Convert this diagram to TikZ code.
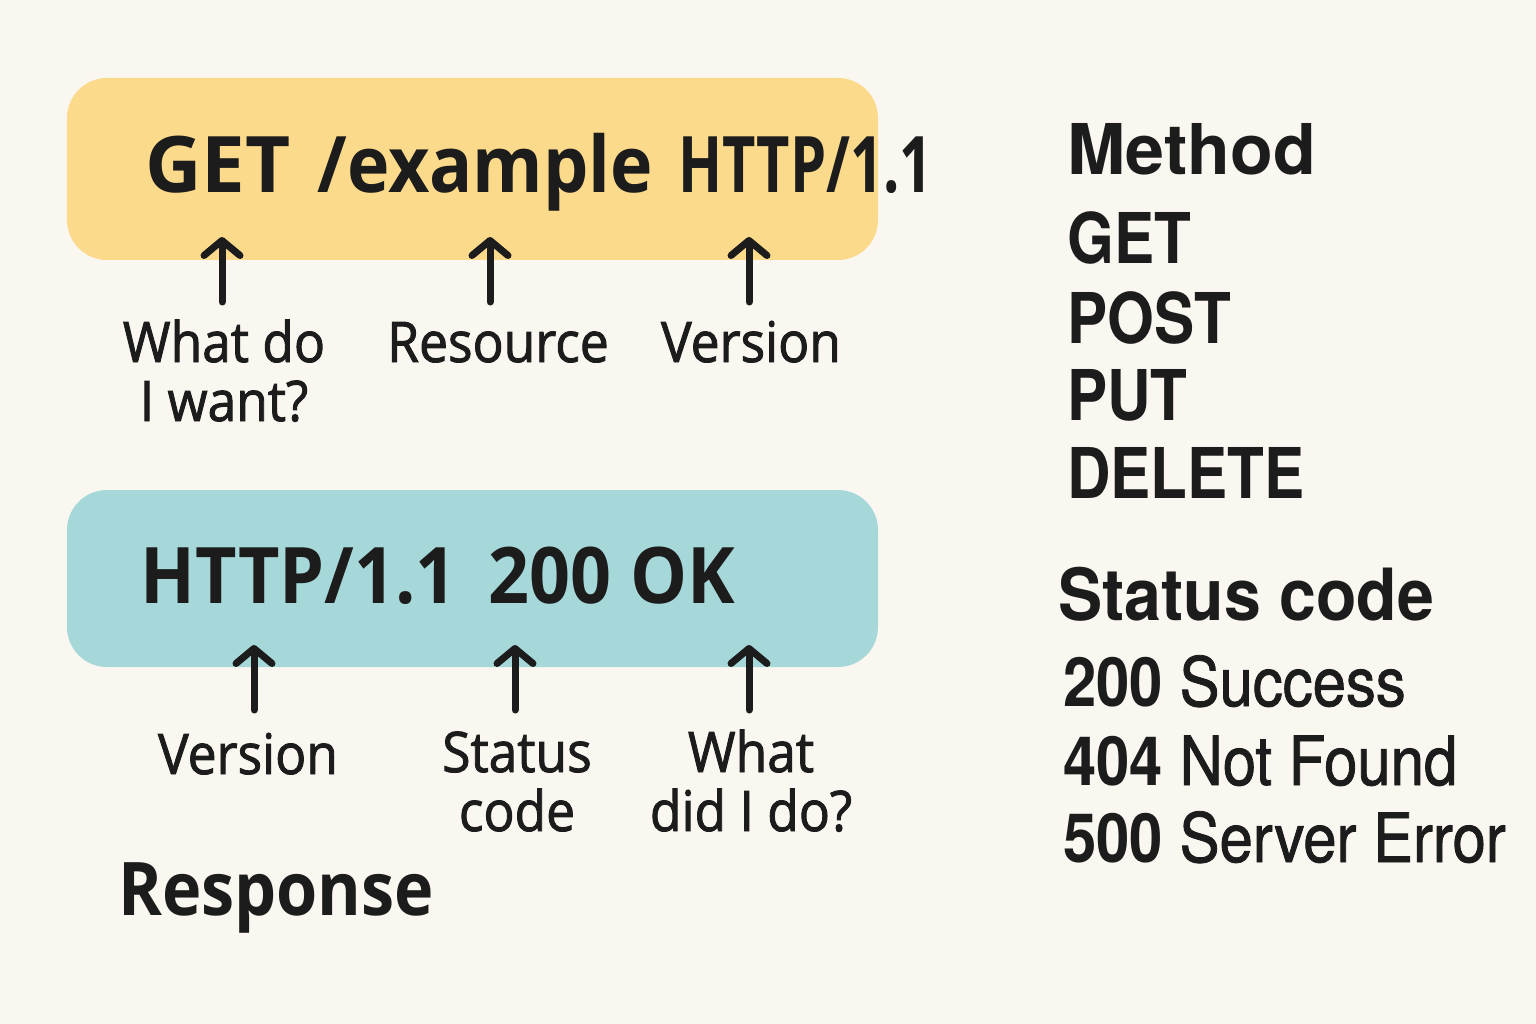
\documentclass[tikz,border=0pt]{standalone}
\usepackage{fontspec}
\usetikzlibrary{arrows.meta}
\setmainfont{Open Sans}
\newfontfamily\osN{Open Sans}
\newfontfamily\osA[FakeStretch=0.92]{Open Sans}
\newfontfamily\osR[FakeStretch=0.9]{Open Sans}
\newfontfamily\osB[FakeStretch=0.74]{Open Sans}
\newfontfamily\osL[FakeStretch=0.92,FakeBold=1.6]{Open Sans}
\newfontfamily\hvN{TeX Gyre Heros}
\newfontfamily\hvS[FakeStretch=0.86]{TeX Gyre Heros}
\newfontfamily\hvT[FakeStretch=0.92]{TeX Gyre Heros}
\newfontfamily\hvC[FakeStretch=0.88]{TeX Gyre Heros}
\newfontfamily\hvCm[FakeStretch=0.88,FakeBold=1.2]{TeX Gyre Heros}
\definecolor{bgc}{HTML}{FAF7F1}
\definecolor{yel}{HTML}{FCDA8B}
\definecolor{tea}{HTML}{A6D8DA}
\definecolor{ink}{HTML}{1C1C1C}
\tikzset{
  box/.style={rounded corners=40pt},
  big/.style={anchor=base west,inner sep=0pt,text=ink,font=\osA\bfseries\fontsize{78}{80}\selectfont},
  lbl/.style={anchor=base,inner sep=0pt,text=ink,align=center,font=\osL\fontsize{56}{59}\selectfont},
  head/.style={anchor=base west,inner sep=0pt,text=ink,font=\hvN\bfseries\fontsize{70}{72}\selectfont},
  item/.style={anchor=base west,inner sep=0pt,text=ink,font=\hvS\bfseries\fontsize{70}{72}\selectfont},
  code/.style={anchor=base west,inner sep=0pt,text=ink,font=\hvC\bfseries\fontsize{68}{70}\selectfont},
  arr/.style={draw=ink,line width=7pt,line cap=round,-{Straight Barb[length=15pt,width=36pt,line cap=round,line join=round]}},
}
\begin{document}
\begin{tikzpicture}[x=1pt,y=-1pt]
\fill[bgc] (0,0) rectangle (1536,1024);
\useasboundingbox (0,0) rectangle (1536,1024);
% boxes
\fill[yel,box] (67,78) rectangle (878,260);
\fill[tea,box] (67,490) rectangle (878,667);
% request line
\node[big] (req) at (145,193) {{\osN GET}\hspace{27pt}/example\hspace{25pt}{\osB HTTP/1.1}};
% request arrows
\coordinate (rs1) at (222,302); \coordinate (rt1) at (222,237);
\coordinate (rs2) at (490,302); \coordinate (rt2) at (490,237);
\coordinate (rs3) at (749,302); \coordinate (rt3) at (749,237);
\draw[arr] (rs1) -- (rt1);
\draw[arr] (rs2) -- (rt2);
\draw[arr] (rs3) -- (rt3);
\node[lbl] (l1) at (224,421) {What do\\I want?};
\node[lbl] (l2) at (498,362) {Resource};
\node[lbl] (l3) at (751,362) {Version};
% response line
\node[big] (resp) at (140,603) {HTTP/1.1\hspace{32pt}200 OK};
\coordinate (ss1) at (254,710); \coordinate (st1) at (254,645);
\coordinate (ss2) at (515,710); \coordinate (st2) at (515,645);
\coordinate (ss3) at (749,710); \coordinate (st3) at (749,645);
\draw[arr] (ss1) -- (st1);
\draw[arr] (ss2) -- (st2);
\draw[arr] (ss3) -- (st3);
\node[lbl] (m1) at (248,774) {Version};
\node[lbl] (m2) at (517,831) {Status\\code};
\node[lbl] (m3) at (751,831) {What\\did I do?};
\node[big,font=\osR\bfseries\fontsize{74}{76}\selectfont] (rsp) at (118,915) {Response};
% right column
\node[head] (meth) at (1067,175) {Method};
\node[item] (g) at (1067,264) {GET};
\node[item] (p) at (1067,343) {POST};
\node[item] (pu) at (1067,420) {PUT};
\node[item] (d) at (1067,498) {DELETE};
\node[head,font=\hvT\bfseries\fontsize{72}{74}\selectfont] (sc) at (1058,620) {Status code};
\node[code] (c1) at (1063,706) {200 {\hvCm\mdseries Success}};
\node[code] (c2) at (1063,785) {404 {\hvCm\mdseries Not Found}};
\node[code] (c3) at (1063,862) {500 {\hvCm\mdseries Server Error}};
\end{tikzpicture}
\end{document}
